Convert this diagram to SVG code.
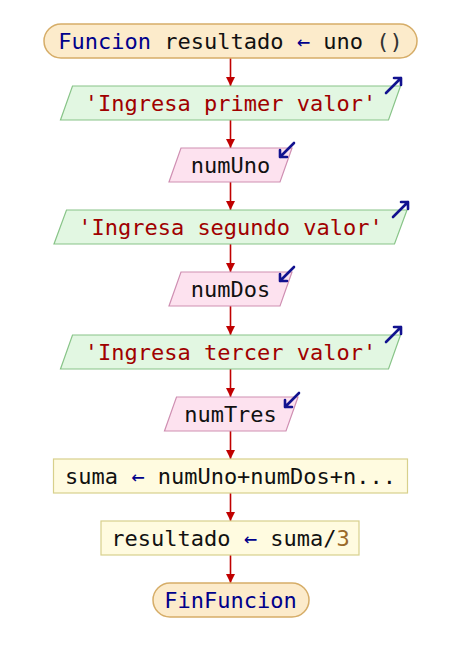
<svg xmlns="http://www.w3.org/2000/svg" width="467" height="651" viewBox="0 0 467 651">
<style>
text{font-family:"DejaVu Sans Mono","Liberation Mono",monospace;font-size:22px;text-anchor:middle;fill:#111}
.term{fill:#fcebcb;stroke:#d6ad68;stroke-width:1.5}
.out{fill:#e2f7e2;stroke:#88c488;stroke-width:1.2}
.in{fill:#fde2ef;stroke:#cf8fb2;stroke-width:1.2}
.proc{fill:#fffbe0;stroke:#d8d08c;stroke-width:1.2}
.kw{fill:#00008b}
.str{fill:#a00000}
.num{fill:#9a6a2a}
.op{fill:#00008b}
.conn{stroke:#c00000;stroke-width:1.6;fill:none}
.io{stroke:#12128f;stroke-width:2.6;fill:none;stroke-linecap:round;stroke-linejoin:round}
</style>
<defs>
<marker id="ah" viewBox="0 0 10 10" refX="10" refY="5" markerWidth="9" markerHeight="9" markerUnits="userSpaceOnUse" orient="auto">
<path d="M0,0 L10,5 L0,10 z" fill="#c00000"/>
</marker>
</defs>
<g id="connectors">
<line class="conn" x1="230.5" y1="58" x2="230.5" y2="86" marker-end="url(#ah)"/>
<line class="conn" x1="230.5" y1="120" x2="230.5" y2="148" marker-end="url(#ah)"/>
<line class="conn" x1="230.5" y1="182" x2="230.5" y2="210" marker-end="url(#ah)"/>
<line class="conn" x1="230.5" y1="244" x2="230.5" y2="272" marker-end="url(#ah)"/>
<line class="conn" x1="230.5" y1="306" x2="230.5" y2="335" marker-end="url(#ah)"/>
<line class="conn" x1="230.5" y1="369" x2="230.5" y2="397" marker-end="url(#ah)"/>
<line class="conn" x1="230.5" y1="431" x2="230.5" y2="459" marker-end="url(#ah)"/>
<line class="conn" x1="230.5" y1="493" x2="230.5" y2="521" marker-end="url(#ah)"/>
<line class="conn" x1="230.5" y1="555" x2="230.5" y2="583" marker-end="url(#ah)"/>
</g>
<g id="n1">
<rect class="term" x="44" y="24" width="373" height="34" rx="17"/>
<text x="230.5" y="48.5"><tspan class="kw">Funcion</tspan> resultado <tspan class="op">←</tspan> uno <tspan fill="#333">()</tspan></text>
</g>
<g id="n2">
<polygon class="out" points="72.5,86 400.5,86 388.5,120 60.5,120"/>
<text x="230.5" y="110.5" class="str">'Ingresa primer valor'</text>
<path class="io" d="M386,93 L401,78 M394,78 L401,78 L401,85"/>
</g>
<g id="n3">
<polygon class="in" points="181,148 292,148 280,182 169,182"/>
<text x="230.5" y="172.5">numUno</text>
<path class="io" d="M294,143 L280,157 M287,157 L280,157 L280,150"/>
</g>
<g id="n4">
<polygon class="out" points="66.5,210 407,210 394.5,244 54,244"/>
<text x="230.5" y="234.5" class="str">'Ingresa segundo valor'</text>
<path class="io" d="M393,217 L408,202 M401,202 L408,202 L408,209"/>
</g>
<g id="n5">
<polygon class="in" points="181,272 292,272 280,306 169,306"/>
<text x="230.5" y="296.5">numDos</text>
<path class="io" d="M294,267 L280,281 M287,281 L280,281 L280,274"/>
</g>
<g id="n6">
<polygon class="out" points="72.5,335 400.5,335 388.5,369 60.5,369"/>
<text x="230.5" y="359.5" class="str">'Ingresa tercer valor'</text>
<path class="io" d="M386,342 L401,327 M394,327 L401,327 L401,334"/>
</g>
<g id="n7">
<polygon class="in" points="176.5,397 298,397 286,431 164.5,431"/>
<text x="230.5" y="421.5">numTres</text>
<path class="io" d="M299,393 L285,407 M292,407 L285,407 L285,400"/>
</g>
<g id="n8">
<rect class="proc" x="53.5" y="459" width="354" height="34"/>
<text x="230.5" y="483.5">suma <tspan class="op">←</tspan> numUno+numDos+n...</text>
</g>
<g id="n9">
<rect class="proc" x="101" y="521" width="258" height="34"/>
<text x="230.5" y="545.5">resultado <tspan class="op">←</tspan> suma/<tspan class="num">3</tspan></text>
</g>
<g id="n10">
<rect class="term" x="153" y="583" width="156" height="34" rx="17"/>
<text x="230.5" y="607.5" class="kw">FinFuncion</text>
</g>
</svg>
